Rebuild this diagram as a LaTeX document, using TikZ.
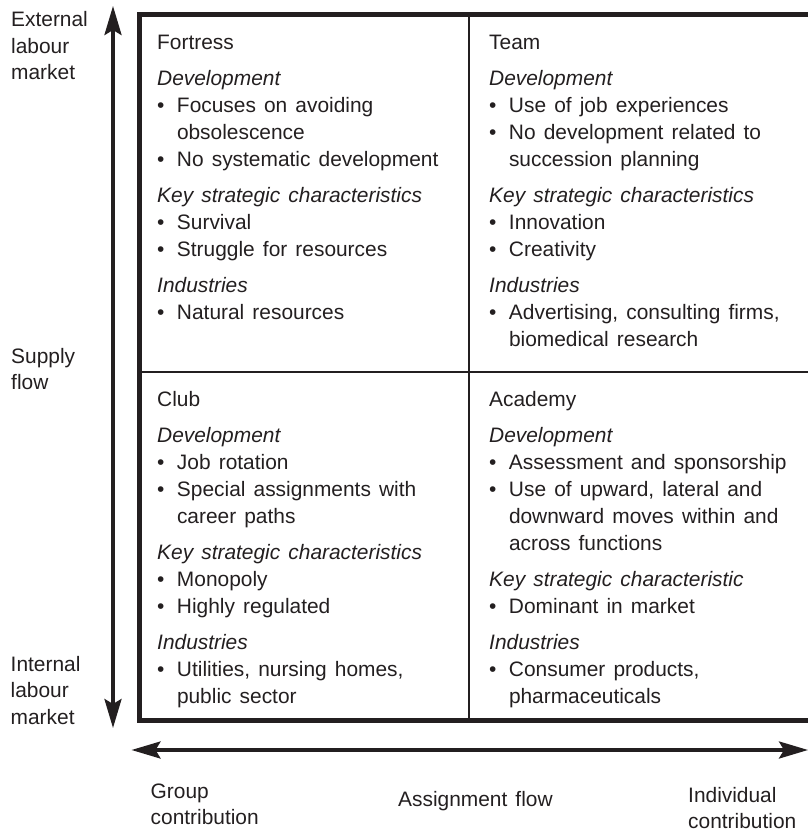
\documentclass[tikz,border=0pt]{standalone}
\usepackage{fontspec}
\setmainfont{Liberation Sans}[WordSpace=1.4]
\usetikzlibrary{arrows.meta}
\definecolor{ink}{HTML}{231F20}
% bullet and continuation indent for list lines
\newcommand{\bul}{\makebox[19.8pt][l]{•}}
\newcommand{\ind}{\hspace*{19.8pt}}
% extra space between groups of lines
\newcommand{\grp}{\\[9pt]}
% a block of lines whose baseline is that of its first line
\newcommand{\textlines}[1]{\begin{tabular}[t]{@{}l@{}}#1\end{tabular}}
\tikzset{
  txt/.style={anchor=base west, inner sep=0pt, text=ink,
    font=\fontsize{20.9pt}{27pt}\selectfont},
  axislabel/.style={anchor=base west, inner sep=0pt, text=ink,
    font=\fontsize{20.9pt}{26.3pt}\selectfont},
  frame/.style={draw=ink, line width=5pt},
  divider/.style={draw=ink, line width=2pt},
  axis/.style={draw=ink, line width=3.5pt,
    {Stealth[length=29pt, width=17pt, inset=5pt]}-{Stealth[length=29pt, width=17pt, inset=5pt]}}
}
\begin{document}
\begin{tikzpicture}[x=1pt, y=-1pt]
\useasboundingbox (0,0) rectangle (808,832);

% grid of the four quadrants
\draw[frame] (808,14.5) -- (139.5,14.5) -- (139.5,720) -- (808,720);
\draw[divider] (468.5,17) -- (468.5,717.5);
\draw[divider] (142,372) -- (808,372);

% axes
\coordinate (ytop) at (113,6);
\coordinate (ybot) at (113,728);
\coordinate (xleft) at (131.5,750);
\coordinate (xright) at (808,750);
\draw[axis] (ybot) -- (ytop);
\draw[axis] (xleft) -- (xright);

% axis labels
\node[axislabel] (ext) at (11,27) {\textlines{External\\labour\\market}};
\node[axislabel] (supply) at (11,363) {\textlines{Supply\\flow}};
\node[axislabel] (int) at (10.5,671.5) {\textlines{Internal\\labour\\market}};
\node[axislabel] (group) at (150.5,798) {\textlines{Group\\contribution}};
\node[axislabel] (assign) at (398,806) {Assignment flow};
\node[axislabel] (indiv) at (688,802) {\textlines{Individual\\contribution}};

% quadrants
\node[txt] (fortress) at (157,50) {\textlines{Fortress\grp
\textit{Development}\\
\bul Focuses on avoiding\\
\ind obsolescence\\
\bul No systematic development\grp
\textit{Key strategic characteristics}\\
\bul Survival\\
\bul Struggle for resources\grp
\textit{Industries}\\
\bul Natural resources}};

\node[txt] (team) at (489,50) {\textlines{Team\grp
\textit{Development}\\
\bul Use of job experiences\\
\bul No development related to\\
\ind succession planning\grp
\textit{Key strategic characteristics}\\
\bul Innovation\\
\bul Creativity\grp
\textit{Industries}\\
\bul Advertising, consulting firms,\\
\ind biomedical research}};

\node[txt] (club) at (157,406) {\textlines{Club\grp
\textit{Development}\\
\bul Job rotation\\
\bul Special assignments with\\
\ind career paths\grp
\textit{Key strategic characteristics}\\
\bul Monopoly\\
\bul Highly regulated\grp
\textit{Industries}\\
\bul Utilities, nursing homes,\\
\ind public sector}};

\node[txt] (academy) at (489,406) {\textlines{Academy\grp
\textit{Development}\\
\bul Assessment and sponsorship\\
\bul Use of upward, lateral and\\
\ind downward moves within and\\
\ind across functions\grp
\textit{Key strategic characteristic}\\
\bul Dominant in market\grp
\textit{Industries}\\
\bul Consumer products,\\
\ind pharmaceuticals}};
\end{tikzpicture}
\end{document}
